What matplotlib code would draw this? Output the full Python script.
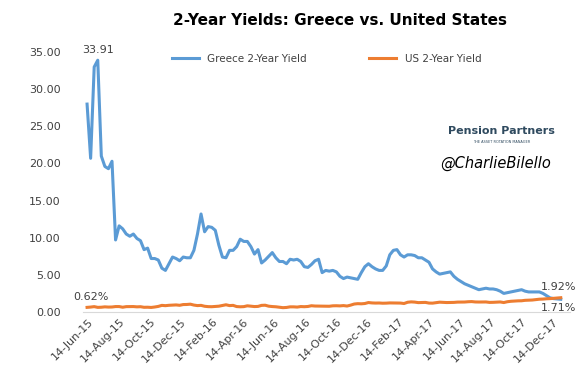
import matplotlib
matplotlib.use('Agg')
import matplotlib.pyplot as plt
import matplotlib.dates as mdates
import pandas as pd

# weekly closes, 12-Jun-2015 .. 29-Dec-2017
greece = [28.0, 20.7, 33.0, 33.91, 21.0, 19.6, 19.3, 20.3, 9.7, 11.6,
          11.2, 10.5, 10.2, 10.5, 9.9, 9.6, 8.4, 8.6, 7.2, 7.2,
          7.0, 5.9, 5.6, 6.5, 7.4, 7.2, 6.9, 7.4, 7.3, 7.3,
          8.3, 10.5, 13.2, 10.8, 11.5, 11.4, 11.0, 9.0, 7.4, 7.3,
          8.3, 8.3, 8.8, 9.8, 9.5, 9.5, 8.8, 7.8, 8.4, 6.6,
          7.0, 7.5, 8.0, 7.3, 6.8, 6.8, 6.5, 7.1, 7.0, 7.1,
          6.8, 6.1, 6.0, 6.4, 6.9, 7.1, 5.3, 5.6, 5.5, 5.6,
          5.4, 4.8, 4.5, 4.7, 4.6, 4.5, 4.4, 5.3, 6.1, 6.5,
          6.1, 5.8, 5.6, 5.6, 6.2, 7.7, 8.3, 8.4, 7.7, 7.4,
          7.7, 7.7, 7.6, 7.3, 7.3, 7.0, 6.7, 5.8, 5.4, 5.1,
          5.2, 5.3, 5.4, 4.8, 4.4, 4.1, 3.8, 3.6, 3.4, 3.2,
          3.0, 3.1, 3.2, 3.1, 3.1, 3.0, 2.8, 2.5, 2.6, 2.7,
          2.8, 2.9, 3.0, 2.8, 2.7, 2.7, 2.7, 2.7, 2.5, 2.2,
          1.9, 1.8, 1.75, 1.71]

us = [0.62, 0.66, 0.72, 0.62, 0.64, 0.69, 0.66, 0.67, 0.73, 0.73,
      0.64, 0.72, 0.72, 0.73, 0.69, 0.71, 0.63, 0.64, 0.61, 0.67,
      0.75, 0.89, 0.85, 0.90, 0.93, 0.95, 0.90, 1.00, 1.01,
      1.05, 0.93, 0.86, 0.89, 0.77, 0.72, 0.71, 0.74, 0.78, 0.88,
      0.97, 0.86, 0.89, 0.73, 0.70, 0.72, 0.83, 0.78, 0.73, 0.75,
      0.89, 0.91, 0.78, 0.73, 0.70, 0.64, 0.58, 0.61, 0.69, 0.69,
      0.66, 0.73, 0.71, 0.74, 0.84, 0.80, 0.79, 0.77, 0.76, 0.77,
      0.83, 0.84, 0.82, 0.86, 0.80, 0.92, 1.07, 1.12, 1.10, 1.14,
      1.27, 1.22, 1.20,
      1.21, 1.18, 1.19, 1.22, 1.21, 1.20, 1.20, 1.14, 1.31, 1.36,
      1.33, 1.26, 1.27, 1.29, 1.20, 1.19, 1.26, 1.32, 1.29, 1.27,
      1.28, 1.29, 1.33, 1.33, 1.34, 1.38, 1.40, 1.35, 1.34, 1.35,
      1.35, 1.29, 1.30, 1.33, 1.35, 1.27, 1.38, 1.44, 1.47, 1.50,
      1.51, 1.57, 1.59, 1.61, 1.66, 1.72, 1.74, 1.78, 1.80, 1.84,
      1.89, 1.92]

dates = pd.date_range('2015-06-12', periods=len(greece), freq='7D')
tick_dates = pd.date_range('2015-06-01', '2017-12-01', freq='2MS') + pd.Timedelta(days=13)

blue = '#5B9BD5'
orange = '#ED7D31'
grey = '#404040'

fig = plt.figure(figsize=(5.78, 3.89), dpi=100)
ax = fig.add_axes([0.1436, 0.198, 0.8424, 0.668])

ax.plot(dates, greece, color=blue, lw=2.2, label='Greece 2-Year Yield', solid_joinstyle='round')
ax.plot(dates, us, color=orange, lw=2.2, label='US 2-Year Yield', solid_joinstyle='round')

ax.set_ylim(0, 35)
ax.set_xlim(pd.Timestamp('2015-06-04'), pd.Timestamp('2018-01-16'))
ax.set_yticks(range(0, 36, 5))
ax.yaxis.set_major_formatter(matplotlib.ticker.FormatStrFormatter('%.2f'))
ax.set_xticks(tick_dates)
ax.xaxis.set_major_formatter(mdates.DateFormatter('%d-%b-%y'))
ax.tick_params(length=0, labelsize=8, colors=grey)
ax.tick_params(axis='y', pad=16)
ax.tick_params(axis='x', pad=3)
for lab in ax.get_xticklabels():
    lab.set_rotation(45)
    lab.set_ha('right')
    lab.set_rotation_mode('anchor')

for s in ['top', 'right', 'left']:
    ax.spines[s].set_visible(False)
ax.spines['bottom'].set_color('#D9D9D9')

fig.text(0.588, 0.948, '2-Year Yields: Greece vs. United States', ha='center', va='center',
         fontsize=11, fontweight='bold', color='black')

ax.legend(loc='upper center', bbox_to_anchor=(0.50, 1.03), ncol=2, frameon=False,
          fontsize=7.5, handlelength=2.6, columnspacing=6, labelcolor=grey)

# data labels
ax.annotate('33.91', (dates[3], greece[3]), xytext=(0, 4), textcoords='offset points',
            ha='center', va='bottom', fontsize=8, color=grey)
ax.annotate('0.62%', (dates[0], us[0]), xytext=(-10, 4), textcoords='offset points',
            ha='left', va='bottom', fontsize=8, color=grey)
ax.annotate('1.92%', (dates[-1], us[-1]), xytext=(-14, 4), textcoords='offset points',
            ha='left', va='bottom', fontsize=8, color=grey)
ax.annotate('1.71%', (dates[-1], greece[-1]), xytext=(-14, -3), textcoords='offset points',
            ha='left', va='top', fontsize=8, color=grey)

# branding
fig.text(0.868, 0.662, 'Pension Partners', ha='center', va='center', fontsize=8,
         fontweight='bold', color='#2F4A5F', family='Liberation Sans Narrow')
fig.text(0.868, 0.634, 'THE ASSET ROTATION MANAGER', ha='center', va='center', fontsize=2.5,
         color='#2F4A5F')
fig.text(0.858, 0.581, '@CharlieBilello', ha='center', va='center', fontsize=10.5,
         style='italic', color='black')

fig.savefig('out.png', dpi=100)
